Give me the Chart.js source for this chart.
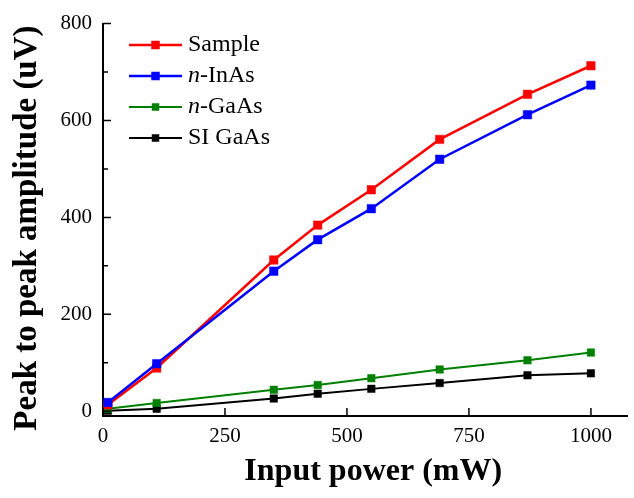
<!DOCTYPE html>
<html lang="en">
<head>
<meta charset="UTF-8">
<title>Peak to peak amplitude</title>
<script src="https://cdn.jsdelivr.net/npm/chart.js@4.4.1/dist/chart.umd.min.js"></script>
<style>
  html, body { margin: 0; padding: 0; background: #fff; }
  #wrap { width: 634px; height: 498px; }
</style>
</head>
<body>
<div id="wrap"><canvas id="chartAmp" width="634" height="498"></canvas></div>
<script>
  // input power (mW)
  var power = [10, 110, 350, 440, 550, 690, 870, 1000];
  // peak to peak amplitude (uV)
  var sample = [13, 89, 312, 384, 457, 561, 654, 713];
  var nInAs = [18, 98, 289, 354, 418, 520, 612, 673];
  var nGaAs = [5, 17, 44, 54, 68, 86, 105, 121];
  var siGaAs = [1, 5, 26, 36, 46, 58, 74, 78];
  var seriesNames = ['Sample', 'n-InAs', 'n-GaAs', 'SI GaAs'];
  var xTicks = [0, 250, 500, 750, 1000];
  var yTicks = [0, 200, 400, 600, 800];
  var yMinor = [100, 300, 500, 700];

  var serif = '"Liberation Serif", "Times New Roman", serif';

  function pts(ys) {
    return power.map(function(x, i) { return { x: x, y: ys[i] }; });
  }

  function serie(name, ys, color, w, r, ord) {
    return {
      label: name,
      data: pts(ys),
      borderColor: color,
      backgroundColor: color,
      pointBackgroundColor: color,
      pointBorderColor: color,
      borderWidth: w,
      pointStyle: 'rect',
      pointRadius: r,
      pointBorderWidth: 0.5,
      tension: 0,
      order: ord
    };
  }

  // ticks drawn inside the frame, like the original plot
  var insideTicks = {
    id: 'insideTicks',
    afterDatasetsDraw: function(chart) {
      var ctx = chart.ctx, a = chart.chartArea;
      var xs = chart.scales.x, ys = chart.scales.y;
      ctx.save();
      ctx.strokeStyle = '#000';
      ctx.lineWidth = 1.5;
      ctx.beginPath();
      yTicks.forEach(function(v) {
        var py = ys.getPixelForValue(v);
        ctx.moveTo(a.left, py); ctx.lineTo(a.left + 8, py);
      });
      yMinor.forEach(function(v) {
        var py = ys.getPixelForValue(v);
        ctx.moveTo(a.left, py); ctx.lineTo(a.left + 5, py);
      });
      xTicks.forEach(function(v) {
        var px = xs.getPixelForValue(v);
        ctx.moveTo(px, a.bottom); ctx.lineTo(px, a.bottom - 8);
      });
      ctx.stroke();
      ctx.restore();
    }
  };

  // legend with line + square sample, "n" in italics
  var boxLegend = {
    id: 'boxLegend',
    afterDraw: function(chart) {
      var ctx = chart.ctx;
      var x0 = 129, x1 = 182, tx = 188, y = 45, gap = 31;
      ctx.save();
      chart.data.datasets.forEach(function(ds, i) {
        var yy = y + i * gap;
        ctx.strokeStyle = ds.borderColor;
        ctx.lineWidth = ds.borderWidth;
        ctx.beginPath();
        ctx.moveTo(x0, yy); ctx.lineTo(x1, yy);
        ctx.stroke();
        ctx.fillStyle = ds.borderColor;
        var s = ds.pointRadius * Math.SQRT2;
        ctx.fillRect((x0 + x1) / 2 - s / 2, yy - s / 2, s, s);

        ctx.fillStyle = '#000';
        ctx.textBaseline = 'middle';
        ctx.textAlign = 'left';
        var txt = ds.label, x = tx;
        if (txt.indexOf('n-') === 0) {
          ctx.font = 'italic 24px ' + serif;
          ctx.fillText('n', x, yy);
          x += ctx.measureText('n').width;
          txt = txt.substring(1);
        }
        ctx.font = '24px ' + serif;
        ctx.fillText(txt, x, yy);
      });
      ctx.restore();
    }
  };

  var ctx = document.getElementById('chartAmp').getContext('2d');
  var chart = new Chart(ctx, {
    type: 'line',
    data: {
      datasets: [
        serie(seriesNames[0], sample, '#ff0000', 2.5, 6, 1),
        serie(seriesNames[1], nInAs, '#0000ff', 2.5, 6, 0),
        serie(seriesNames[2], nGaAs, '#008000', 2, 5.3, 2),
        serie(seriesNames[3], siGaAs, '#000000', 2, 5.3, 3)
      ]
    },
    options: {
      responsive: false,
      animation: false,
      layout: { padding: { top: 18, right: 0, left: 0, bottom: 0 } },
      plugins: {
        legend: { display: false },
        tooltip: { enabled: false }
      },
      scales: {
        x: {
          type: 'linear',
          min: 0,
          max: 1075,
          afterBuildTicks: function(scale) {
            scale.ticks = xTicks.map(function(v) { return { value: v }; });
          },
          afterFit: function(scale) { scale.height = 82; },
          border: { display: true, color: '#000', width: 2 },
          grid: { display: false, drawTicks: false },
          ticks: {
            color: '#000',
            padding: 8,
            maxRotation: 0,
            font: { family: serif, size: 21 },
            callback: function(v) { return String(v); }
          },
          title: {
            display: true,
            text: '\u2002Input power (mW)',
            color: '#000',
            padding: { top: 0, bottom: 7 },
            font: { family: serif, size: 32, weight: 'bold' }
          }
        },
        y: {
          type: 'linear',
          min: -10,
          max: 800,
          afterBuildTicks: function(scale) {
            scale.ticks = yTicks.map(function(v) { return { value: v }; });
          },
          afterFit: function(scale) { scale.width = 103; },
          border: { display: true, color: '#000', width: 2 },
          grid: { display: false, drawTicks: false },
          ticks: {
            color: '#000',
            padding: 11,
            font: { family: serif, size: 21 },
            callback: function(v) { return String(v); }
          },
          title: {
            display: true,
            text: 'Peak to peak amplitude (uV)\u2002',
            color: '#000',
            padding: { top: 8, bottom: 0 },
            font: { family: serif, size: 33, weight: 'bold' }
          }
        }
      }
    },
    plugins: [insideTicks, boxLegend]
  });
</script>
</body>
</html>
